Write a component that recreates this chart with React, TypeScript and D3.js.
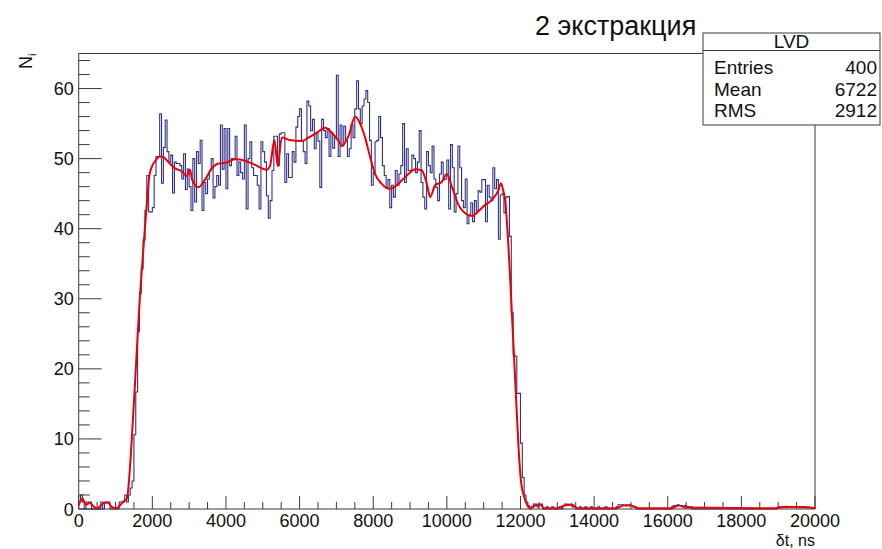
import * as d3 from 'd3';

// histogram: 400 bins of 50 ns from 0 to 20000 (one row = 1000 ns)
const binWidth = 50;
const binValues = [
  1, 2, 1, 0, 1, 1, 1, 0, 0, 0, 0, 0, 1, 0, 1, 1, 1, 0, 0, 0,
  0, 0, 1, 1, 1, 2, 1, 2, 3, 4, 10.6, 16.7, 25.3, 30.8, 34.3, 38.4, 42.6, 47.6, 42.4, 42.4,
  43, 47.6, 50.3, 50.3, 56.4, 46.5, 51.6, 55.5, 51, 49.5, 50.5, 45.1, 49.5, 49.3, 49.3, 49, 47.1, 50.7, 45.6, 48.5,
  46, 42.6, 50, 43.8, 51, 49.3, 52.6, 42.6, 46.6, 45, 47.1, 48.3, 50, 44.4, 46, 47.6, 46.2, 54.8, 48.5, 54.3,
  45.7, 54.3, 49, 50, 50, 53.2, 47.6, 49.5, 48, 47.1, 54.8, 42.8, 50, 52.4, 48.7, 47.6, 47.6, 46.2, 42.8, 52.4,
  51, 49.5, 44.7, 41.5, 44, 48.3, 53.2, 53.2, 49, 53.5, 53.7, 53.7, 46.6, 50.7, 47.3, 47.3, 51, 49.5, 54.5, 56,
  57.1, 52.6, 51, 49.3, 58.2, 57.5, 54, 55.6, 51.4, 53.7, 52.5, 45.9, 55.6, 54, 53, 54.3, 50.3, 53.7, 51.5, 53,
  61.9, 50.3, 54.8, 51.8, 54.6, 52.5, 50.3, 51.4, 54.8, 53, 57.1, 61.1, 57.1, 55, 57.5, 58.5, 59.7, 58, 52.6, 46.2,
  48, 52.4, 52.6, 56, 53, 49, 47.6, 45.9, 47, 43, 46.2, 44.5, 48.3, 46.2, 47.8, 49, 55, 46.6, 51.4, 48.3,
  48.3, 50.5, 50, 48, 49.5, 54, 46.6, 44.5, 42.8, 51, 49, 48, 51.8, 47.1, 45.9, 44, 47.8, 49.5, 47, 47.1,
  49.8, 42.8, 52, 48.7, 42.4, 45, 51.8, 48.7, 44, 43, 47.1, 40.7, 42, 43.7, 41, 44, 42.5, 45.4, 45.2, 47,
  47, 41, 46.2, 44.5, 44, 48.7, 45.7, 47, 38.5, 44.8, 45, 42.3, 44.5, 44.6, 38.9, 28, 22, 21.8, 16.5, 16.5,
  9.4, 4.5, 2, 1, 0.5, 0, 0.3, 0.7, 0.7, 0.3, 0.7, 0.7, 0, 0, 0.3, 0, 0, 0.3, 0, 0,
  0, 0.3, 0, 0.5, 0.7, 0.7, 0.5, 0.7, 0.3, 0.3, 0, 0, 0.3, 0, 0, 0.3, 0, 0, 0.3, 0,
  0, 0, 0.3, 0, 0, 0, 0.3, 0, 0, 0, 0, 0, 0.3, 0.6, 0.6, 0.6, 0.5, 0.6, 0.5, 0.6,
  0.5, 0.3, 0.3, 0, 0, 0, 0, 0, 0, 0, 0, 0, 0, 0, 0, 0, 0, 0, 0, 0,
  0, 0, 0.3, 0.5, 0.5, 0.6, 0.5, 0.5, 0.4, 0.5, 0.4, 0.3, 0.3, 0, 0, 0, 0, 0, 0, 0,
  0, 0, 0, 0, 0, 0, 0, 0, 0, 0, 0, 0, 0, 0, 0, 0, 0, 0, 0, 0,
  0, 0, 0, 0, 0, 0, 0, 0, 0, 0, 0, 0, 0, 0, 0, 0, 0, 0, 0, 0.2,
  0.3, 0.3, 0.3, 0.3, 0.4, 0.3, 0.3, 0.3, 0.3, 0.3, 0.3, 0.2, 0.2, 0.2, 0.2, 0.2, 0.2, 0.2, 0.2, 0.2,
];

// smoothed curve (red)
const smoothT = [
  0, 100, 200, 300, 400, 500, 600, 700, 800, 900, 1000, 1100, 1200, 1312, 1380, 1449, 1530, 1603, 1660, 1720,
  1790, 1856, 1920, 2000, 2073, 2200, 2300, 2436, 2617, 2798, 2934, 3024, 3080, 3250, 3432, 3614, 3795, 3976, 4247, 4519,
  4791, 5109, 5200, 5316, 5407, 5516, 5697, 6060, 6240, 6467, 6693, 6875, 7100, 7147, 7328, 7508, 7644, 7780, 7916, 8052,
  8233, 8413, 8595, 8777, 8957, 9139, 9320, 9457, 9546, 9682, 9864, 10000, 10136, 10315, 10497, 10679, 10859, 11041, 11223, 11402,
  11470, 11538, 11584, 11674, 11766, 11856, 11946, 12011, 12128, 12264, 12400, 12535, 12650, 13000, 13200, 13400, 13550, 14600, 14800, 15000,
  15200, 16100, 16300, 16500, 18900, 19200, 19700, 20000,
];
const smoothV = [
  0.5, 1.5, 0.6, 0.9, 0.4, 0.1, 0.5, 0.9, 0.9, 0.3, 0.1, 0.4, 1.0, 1.5, 5, 10.6, 18, 25, 30, 34.5,
  39.5, 44, 47.6, 49, 49.6, 50.3, 50.2, 49.5, 48.6, 48.2, 47.5, 48.4, 47, 45.9, 47, 48.6, 49.3, 49.4, 49.9, 49.7,
  49.1, 48.4, 49, 52.7, 48.9, 53, 52.7, 52.5, 53, 53.7, 54.4, 53.7, 52.2, 51.8, 53.2, 56, 55, 53, 50.2, 47.8,
  46.4, 45.7, 46, 46.9, 47.8, 48.5, 48.3, 46.4, 44.5, 46.2, 46.7, 47.8, 46, 43.4, 42.2, 41.8, 42.5, 43.4, 44.1, 45.5,
  46.5, 45.3, 44, 37.4, 28, 18.4, 8.9, 4.1, 1.3, 0.1, 0.5, 0.6, 0.1, 0.1, 0.5, 0.6, 0.1, 0.1, 0.5, 0.5,
  0.1, 0.1, 0.5, 0.2, 0.1, 0.3, 0.3, 0.1,
];

const xTicks = [0, 2000, 4000, 6000, 8000, 10000, 12000, 14000, 16000, 18000, 20000];
const yTicks = [0, 10, 20, 30, 40, 50, 60];

const statRows = [
  ['Entries', '400'],
  ['Mean', '6722'],
  ['RMS', '2912'],
];

const W = 882;
const H = 549;
const frame = { left: 78.7, right: 815, top: 53.5, bottom: 509 };
const font = '"Liberation Sans", Arial, Helvetica, sans-serif';
const axisColor = '#3a3a3a';

export default function App() {
  const x = d3.scaleLinear().domain([0, 20000]).range([frame.left, frame.right]);
  const y = d3.scaleLinear().domain([0, 65]).range([frame.bottom, frame.top]);

  const steps: [number, number][] = binValues.map((v, i) => [i * binWidth, v]);
  steps.push([binValues.length * binWidth, binValues[binValues.length - 1]]);
  const histPath = d3
    .line<[number, number]>()
    .x((d) => x(d[0]))
    .y((d) => y(d[1]))
    .curve(d3.curveStepAfter)(steps);

  const smoothPath = d3
    .line<number>()
    .x((_, i) => x(smoothT[i]))
    .y((d) => y(d))
    .curve(d3.curveMonotoneX)(smoothV);

  const xMinor = d3.range(0, 20001, 500).filter((t) => t % 2000 !== 0);
  const yMinor = d3.range(0, 65, 2).filter((v) => v % 10 !== 0);

  const box = { x0: 703, x1: 880, y0: 33, y1: 125, head: 50.5 };

  return (
    <svg
      width={W}
      height={H}
      style={{ position: 'fixed', left: 0, top: 0, background: '#fff' }}
      fontFamily={font}
    >
      <rect x={0} y={0} width={W} height={H} fill="#fff" />

      <rect
        x={frame.left}
        y={frame.top}
        width={frame.right - frame.left}
        height={frame.bottom - frame.top}
        fill="none"
        stroke={axisColor}
        strokeWidth={1}
      />

      {/* y axis ticks */}
      {yTicks.map((v) => (
        <g key={'yt' + v}>
          <line x1={frame.left} x2={frame.left + 23} y1={y(v)} y2={y(v)} stroke={axisColor} />
          <text x={frame.left - 5} y={y(v) + 6.5} fontSize={18} textAnchor="end" fill="#111">
            {v}
          </text>
        </g>
      ))}
      {yMinor.map((v) => (
        <line key={'ym' + v} x1={frame.left} x2={frame.left + 11} y1={y(v)} y2={y(v)} stroke={axisColor} />
      ))}

      {/* x axis ticks */}
      {xTicks.map((t) => (
        <g key={'xt' + t}>
          <line x1={x(t)} x2={x(t)} y1={frame.bottom} y2={frame.bottom - 13} stroke={axisColor} />
          <text x={x(t)} y={526.5} fontSize={18} textAnchor="middle" fill="#111">
            {t}
          </text>
        </g>
      ))}
      {xMinor.map((t) => (
        <line key={'xm' + t} x1={x(t)} x2={x(t)} y1={frame.bottom} y2={frame.bottom - 7} stroke={axisColor} />
      ))}

      <path d={histPath ?? ''} fill="none" stroke="#30308a" strokeWidth={1.1} />
      <path d={smoothPath ?? ''} fill="none" stroke="#ee0000" strokeWidth={2} />

      {/* axis titles */}
      <text x={frame.right} y={545.5} fontSize={16} textAnchor="end" fill="#111">
        δt, ns
      </text>
      <text transform={`translate(32, ${frame.top}) rotate(-90)`} fontSize={18} textAnchor="end" fill="#111">
        N<tspan fontSize={11} dy={4}>i</tspan>
      </text>

      {/* title */}
      <text x={535} y={35} fontSize={27} fill="#111">
        2 экстракция
      </text>

      {/* stats box */}
      <rect x={box.x0} y={box.y0} width={box.x1 - box.x0} height={box.y1 - box.y0} fill="#fff" stroke={axisColor} />
      <line x1={box.x0} x2={box.x1} y1={box.head} y2={box.head} stroke={axisColor} />
      <text x={(box.x0 + box.x1) / 2} y={48} fontSize={19} textAnchor="middle" fill="#111">
        LVD
      </text>
      {statRows.map((r, i) => (
        <g key={r[0]}>
          <text x={box.x0 + 11} y={74 + i * 21.5} fontSize={19} fill="#111">
            {r[0]}
          </text>
          <text x={box.x1 - 3} y={74 + i * 21.5} fontSize={19} textAnchor="end" fill="#111">
            {r[1]}
          </text>
        </g>
      ))}
    </svg>
  );
}
